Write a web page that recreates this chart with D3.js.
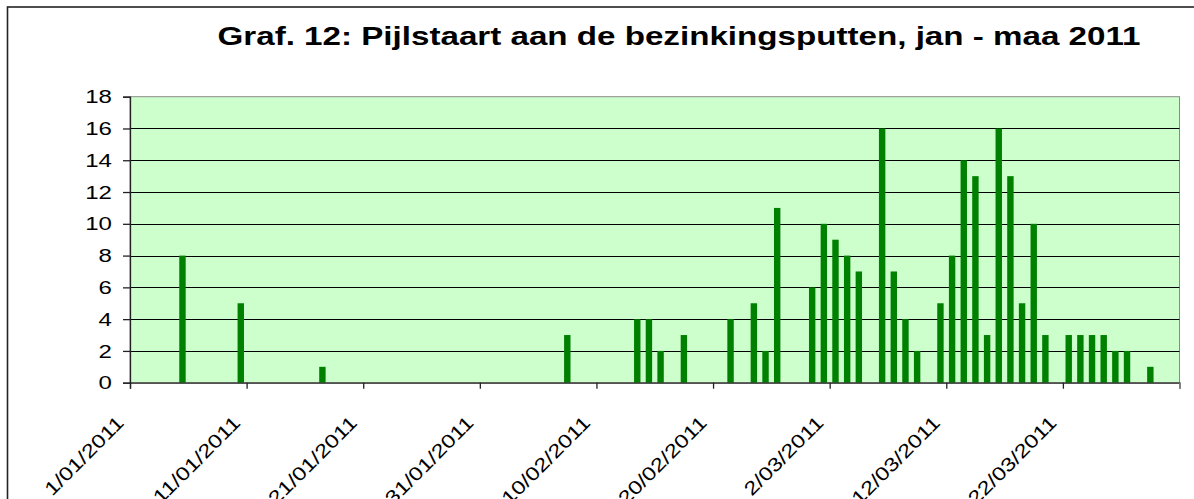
<!DOCTYPE html>
<html>
<head>
<meta charset="utf-8">
<script src="https://cdn.jsdelivr.net/npm/d3@7"></script>
<style>
	body { margin: 0; background: #fff; }
	svg { display: block; }
	text { font-family: Arial, "Liberation Sans", sans-serif; fill: #000; }
</style>
</head>
<body>
<div id="chart"></div>
<script>
// days with counts (other days = 0)
var dates = ["5/01/2011", "10/01/2011", "17/01/2011", "7/02/2011", "13/02/2011", "14/02/2011",
	"15/02/2011", "17/02/2011", "21/02/2011", "23/02/2011", "24/02/2011", "25/02/2011",
	"28/02/2011", "1/03/2011", "2/03/2011", "3/03/2011", "4/03/2011", "6/03/2011",
	"7/03/2011", "8/03/2011", "9/03/2011", "11/03/2011", "12/03/2011", "13/03/2011",
	"14/03/2011", "15/03/2011", "16/03/2011", "17/03/2011", "18/03/2011", "19/03/2011",
	"20/03/2011", "22/03/2011", "23/03/2011", "24/03/2011", "25/03/2011", "26/03/2011",
	"27/03/2011", "29/03/2011"];
var counts = [8, 5, 1, 3, 4, 4,
	2, 3, 4, 5, 2, 11,
	6, 10, 9, 8, 7, 16,
	7, 4, 2, 5, 8, 14,
	13, 3, 16, 13, 5, 10,
	3, 3, 3, 3, 3, 2,
	2, 1];
var tickLabels = ["1/01/2011", "11/01/2011", "21/01/2011", "31/01/2011", "10/02/2011",
	"20/02/2011", "2/03/2011", "12/03/2011", "22/03/2011"];
var yTicks = [0, 2, 4, 6, 8, 10, 12, 14, 16, 18];
var startDate = "1/01/2011";
var endDate = "1/04/2011";
var title = "Graf. 12: Pijlstaart aan de bezinkingsputten, jan - maa 2011";

var parse = d3.utcParse("%d/%m/%Y");

drawChart();

function drawChart()
{
	var width = 1194;
	var height = 499;
	var left = 130, right = 1179.5, top = 96.7, bottom = 382.7;
	var sx = 1.3; // the picture is stretched sideways

	var svg = d3.select("#chart")
		.append("svg")
		.attr("width", width)
		.attr("height", height);

	svg.append("rect")
		.attr("width", width)
		.attr("height", height)
		.attr("fill", "#fff");

	// outer frame
	svg.append("rect")
		.attr("x", 7.5)
		.attr("y", 7)
		.attr("width", 1300)
		.attr("height", 700)
		.attr("fill", "none")
		.attr("stroke", "#222")
		.attr("stroke-width", 1.6);

	var xScale = d3.scaleUtc()
		.domain([parse(startDate), parse(endDate)])
		.range([left, right]);

	var yScale = d3.scaleLinear()
		.domain([0, 18])
		.range([bottom, top]);

	svg.append("rect")
		.attr("x", left)
		.attr("y", top)
		.attr("width", right - left)
		.attr("height", bottom - top)
		.attr("fill", "#ccffcc")
		.attr("stroke", "#8a8a8a")
		.attr("stroke-width", 1);

	// gridlines
	svg.selectAll("line.grid")
		.data(yTicks.filter(function(d){ return d > 0 && d < 18; }))
		.enter()
		.append("line")
		.attr("class", "grid")
		.attr("x1", left)
		.attr("x2", right)
		.attr("y1", function(d){ return Math.round(yScale(d)) + 0.5; })
		.attr("y2", function(d){ return Math.round(yScale(d)) + 0.5; })
		.attr("stroke", "#000")
		.attr("stroke-width", 1.2);

	// bars
	var rows = dates.map(function(d, i){ return { date: parse(d), value: counts[i] }; });
	svg.selectAll("rect.bar")
		.data(rows)
		.enter()
		.append("rect")
		.attr("class", "bar")
		.attr("x", function(d){
			var x0 = xScale(d.date);
			var w = xScale(d3.utcDay.offset(d.date, 1)) - x0;
			return x0 + w * 0.225;
		})
		.attr("width", function(d){
			return (xScale(d3.utcDay.offset(d.date, 1)) - xScale(d.date)) * 0.55;
		})
		.attr("y", function(d){ return yScale(d.value); })
		.attr("height", function(d){ return yScale(0) - yScale(d.value); })
		.attr("fill", "#008000");

	// y axis
	var yAxis = d3.axisLeft(yScale).tickValues(yTicks).tickSize(7).tickFormat("");
	svg.append("g")
		.attr("class", "y axis")
		.attr("transform", "translate(" + left + ",0)")
		.call(yAxis)
		.call(function(g){
			g.selectAll("path, line").attr("stroke", "#222").attr("stroke-width", 1.3);
		});

	svg.selectAll("text.ylab")
		.data(yTicks)
		.enter()
		.append("text")
		.attr("class", "ylab")
		.attr("transform", function(d){
			return "translate(112," + (yScale(d) + 6.6) + ") scale(" + sx + ",1)";
		})
		.attr("text-anchor", "end")
		.style("font-size", "18.5px")
		.text(function(d){ return d; });

	// x axis
	var tickDates = tickLabels.map(parse).concat([parse(endDate)]);
	var xAxis = d3.axisBottom(xScale).tickValues(tickDates).tickSize(6).tickFormat("");
	svg.append("g")
		.attr("class", "x axis")
		.attr("transform", "translate(0," + bottom + ")")
		.call(xAxis)
		.call(function(g){
			g.selectAll("path, line").attr("stroke", "#222").attr("stroke-width", 1.3);
			g.select(".tick:last-of-type line").attr("stroke", "#8a8a8a");
		});

	svg.selectAll("text.xlab")
		.data(tickLabels)
		.enter()
		.append("text")
		.attr("class", "xlab")
		.attr("transform", function(d){
			return "translate(" + (xScale(parse(d)) - 5) + ",424) rotate(-45) scale(1.24,1)";
		})
		.attr("text-anchor", "end")
		.style("font-size", "19px")
		.text(function(d){ return d; });

	svg.append("text")
		.attr("transform", "translate(679,45) scale(1.29,1)")
		.attr("text-anchor", "middle")
		.style("font-size", "25.7px")
		.style("font-weight", "bold")
		.text(title);
}
</script>
</body>
</html>
